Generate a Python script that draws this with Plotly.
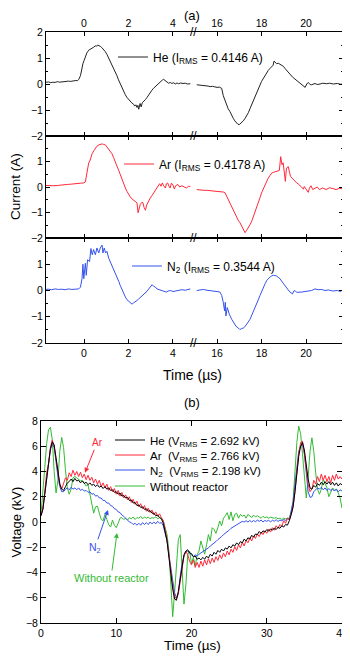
import numpy as np
import plotly.graph_objects as go

# ---------------- (a) discharge current, time in µs ----------------
# left block (before the axis break) and right block (after it), (t, I) pairs
he_left = [(-1.74, 0.06), (-1.6, 0.08), (-1.5, 0.05), (-1.4, 0.07), (-1.3, 0.06), (-1.2, 0.09), (-1.1, 0.07),
           (-1.0, 0.08), (-0.9, 0.1), (-0.8, 0.09), (-0.7, 0.11), (-0.6, 0.1), (-0.5, 0.12), (-0.4, 0.13),
           (-0.3, 0.13), (-0.24, 0.17), (-0.16, 0.32), (-0.1, 0.6), (-0.05, 0.78), (0.0, 0.9), (0.06, 1.04),
           (0.13, 1.2), (0.21, 1.3), (0.3, 1.34), (0.36, 1.37), (0.44, 1.42), (0.51, 1.47), (0.56, 1.45),
           (0.61, 1.5), (0.67, 1.48), (0.73, 1.45), (0.8, 1.4), (0.88, 1.34), (0.95, 1.25), (1.03, 1.14),
           (1.1, 1.02), (1.18, 0.88), (1.25, 0.75), (1.33, 0.61), (1.4, 0.47), (1.48, 0.32), (1.55, 0.16),
           (1.63, 0.0), (1.7, -0.14), (1.78, -0.29), (1.85, -0.4), (1.93, -0.52), (2.0, -0.6), (2.08, -0.68),
           (2.15, -0.73), (2.23, -0.78), (2.28, -0.85), (2.33, -0.8), (2.38, -0.9), (2.42, -0.82), (2.46, -0.97),
           (2.52, -0.75), (2.57, -0.88), (2.62, -0.72), (2.68, -0.68), (2.76, -0.6), (2.83, -0.52), (2.9, -0.42),
           (2.98, -0.32), (3.05, -0.24), (3.13, -0.16), (3.2, -0.1), (3.28, -0.03), (3.36, 0.03), (3.45, 0.1),
           (3.52, 0.15), (3.58, 0.18), (3.63, 0.14), (3.68, 0.12), (3.75, 0.06), (3.8, 0.03), (3.88, 0.06),
           (3.95, 0.02), (4.03, 0.05), (4.1, 0.0), (4.18, 0.04), (4.25, 0.01), (4.35, 0.04), (4.45, 0.02),
           (4.55, 0.03), (4.65, 0.0), (4.78, 0.01)]
he_right = [(15.09, -0.03), (15.2, -0.04), (15.3, -0.05), (15.39, -0.06), (15.5, -0.05), (15.6, -0.08), (15.69, -0.1),
            (15.8, -0.09), (15.9, -0.11), (16.0, -0.13), (16.1, -0.12), (16.21, -0.17), (16.28, -0.45), (16.36, -0.65),
            (16.43, -0.84), (16.5, -0.95), (16.58, -1.06), (16.65, -1.2), (16.73, -1.32), (16.8, -1.42), (16.88, -1.49),
            (16.94, -1.55), (17.0, -1.56), (17.05, -1.52), (17.1, -1.49), (17.18, -1.42), (17.26, -1.32), (17.33, -1.22),
            (17.41, -1.1), (17.48, -0.95), (17.56, -0.8), (17.63, -0.64), (17.7, -0.49), (17.78, -0.34), (17.86, -0.19),
            (17.93, -0.04), (18.0, 0.1), (18.08, 0.22), (18.16, 0.32), (18.23, 0.42), (18.3, 0.52), (18.38, 0.6),
            (18.46, 0.65), (18.52, 0.72), (18.56, 0.88), (18.62, 0.82), (18.68, 0.78), (18.75, 0.8), (18.83, 0.75),
            (18.9, 0.72), (18.98, 0.68), (19.05, 0.6), (19.13, 0.52), (19.2, 0.44), (19.28, 0.36), (19.4, 0.26),
            (19.5, 0.19), (19.62, 0.1), (19.73, 0.03), (19.85, -0.06), (19.96, -0.13), (20.03, 0.0), (20.1, 0.06),
            (20.18, -0.02), (20.25, -0.03), (20.4, 0.02), (20.5, -0.02), (20.63, 0.0), (20.75, 0.03), (20.93, 0.01),
            (21.05, 0.03), (21.23, 0.0), (21.4, 0.02), (21.55, -0.01), (21.68, 0.0)]
ar_left = [(-1.74, 0.06), (-1.6, 0.05), (-1.5, 0.07), (-1.36, 0.05), (-1.2, 0.06), (-1.05, 0.08), (-0.91, 0.09),
           (-0.75, 0.1), (-0.6, 0.11), (-0.46, 0.13), (-0.3, 0.14), (-0.15, 0.15), (-0.01, 0.16), (0.06, 0.2),
           (0.13, 0.55), (0.21, 0.94), (0.28, 1.06), (0.36, 1.3), (0.44, 1.42), (0.51, 1.52), (0.58, 1.6),
           (0.66, 1.65), (0.73, 1.68), (0.81, 1.69), (0.88, 1.67), (0.96, 1.65), (1.03, 1.57), (1.11, 1.48),
           (1.18, 1.4), (1.26, 1.3), (1.33, 1.15), (1.41, 1.0), (1.48, 0.82), (1.56, 0.65), (1.63, 0.47),
           (1.71, 0.29), (1.78, 0.12), (1.86, -0.04), (1.93, -0.17), (2.01, -0.3), (2.08, -0.39), (2.16, -0.47),
           (2.23, -0.52), (2.31, -0.56), (2.38, -0.62), (2.43, -1.01), (2.48, -0.8), (2.53, -0.68), (2.6, -0.6),
           (2.65, -0.62), (2.7, -0.8), (2.76, -0.91), (2.82, -0.7), (2.9, -0.55), (2.98, -0.43), (3.06, -0.33),
           (3.13, -0.23), (3.2, -0.14), (3.28, -0.04), (3.34, 0.05), (3.4, 0.13), (3.46, 0.03), (3.52, 0.16),
           (3.58, 0.05), (3.66, -0.04), (3.7, 0.12), (3.76, 0.16), (3.82, 0.03), (3.87, -0.04), (3.93, 0.15),
           (4.0, 0.08), (4.06, -0.08), (4.12, 0.05), (4.22, 0.1), (4.3, 0.0), (4.4, 0.05), (4.5, 0.01),
           (4.6, -0.04), (4.7, 0.03), (4.78, 0.02)]
ar_right = [(15.09, -0.1), (15.2, -0.12), (15.3, -0.11), (15.4, -0.13), (15.54, -0.13), (15.7, -0.14), (15.85, -0.15),
            (16.0, -0.17), (16.15, -0.18), (16.3, -0.2), (16.36, -0.23), (16.43, -0.36), (16.5, -0.48), (16.58, -0.62),
            (16.66, -0.78), (16.73, -0.95), (16.8, -1.08), (16.88, -1.2), (16.95, -1.3), (17.03, -1.4), (17.1, -1.52),
            (17.18, -1.66), (17.26, -1.79), (17.33, -1.7), (17.41, -1.6), (17.48, -1.48), (17.56, -1.34), (17.63, -1.18),
            (17.7, -1.01), (17.78, -0.82), (17.86, -0.62), (17.93, -0.42), (18.0, -0.23), (18.08, -0.07), (18.16, 0.09),
            (18.23, 0.22), (18.3, 0.35), (18.38, 0.45), (18.46, 0.55), (18.55, 0.58), (18.62, 0.6), (18.68, 0.61),
            (18.75, 0.65), (18.8, 0.65), (18.86, 1.19), (18.92, 0.87), (18.97, 0.95), (19.01, 0.68), (19.07, 0.22),
            (19.12, 0.74), (19.2, 0.8), (19.25, 0.6), (19.3, 0.42), (19.37, 0.35), (19.43, 0.29), (19.5, 0.2),
            (19.58, 0.16), (19.65, 0.12), (19.73, 0.05), (19.8, -0.02), (19.88, -0.08), (19.92, 0.02), (20.0, -0.1),
            (20.1, -0.21), (20.15, -0.05), (20.22, 0.05), (20.3, -0.1), (20.4, -0.05), (20.5, 0.0), (20.6, -0.1),
            (20.75, -0.04), (20.9, -0.1), (21.05, -0.03), (21.2, -0.06), (21.35, -0.1), (21.5, -0.05), (21.68, -0.08)]
n2_left = [(-1.74, 0.04), (-1.6, 0.05), (-1.45, 0.03), (-1.3, 0.06), (-1.15, 0.04), (-1.0, 0.05), (-0.85, 0.03),
           (-0.7, 0.06), (-0.55, 0.04), (-0.4, 0.05), (-0.24, 0.06), (-0.16, 0.13), (-0.09, 0.45), (-0.05, 1.0),
           (-0.01, 0.45), (0.06, 1.04), (0.1, 0.58), (0.16, 1.17), (0.25, 1.1), (0.31, 1.6), (0.37, 1.36),
           (0.43, 1.56), (0.51, 1.36), (0.58, 1.62), (0.66, 1.43), (0.73, 1.62), (0.81, 1.73), (0.85, 1.43),
           (0.91, 1.62), (0.97, 1.43), (1.03, 1.49), (1.11, 1.23), (1.18, 1.1), (1.26, 0.97), (1.33, 0.84),
           (1.41, 0.68), (1.48, 0.52), (1.56, 0.35), (1.63, 0.19), (1.71, 0.03), (1.78, -0.13), (1.86, -0.25),
           (1.93, -0.35), (2.01, -0.41), (2.08, -0.45), (2.16, -0.52), (2.23, -0.47), (2.31, -0.43), (2.38, -0.38),
           (2.46, -0.32), (2.53, -0.27), (2.61, -0.22), (2.68, -0.15), (2.76, -0.09), (2.83, -0.03), (2.91, 0.06),
           (2.98, 0.14), (3.06, 0.22), (3.13, 0.16), (3.21, 0.13), (3.28, 0.06), (3.36, 0.04), (3.43, 0.0),
           (3.5, 0.0), (3.6, -0.04), (3.7, -0.06), (3.78, -0.02), (3.9, 0.0), (4.0, -0.04), (4.1, -0.02),
           (4.25, 0.0), (4.4, 0.03), (4.55, 0.01), (4.78, 0.06)]
n2_right = [(15.09, 0.0), (15.25, 0.02), (15.39, 0.04), (15.55, 0.01), (15.69, 0.0), (15.85, -0.02), (16.0, -0.04),
            (16.13, -0.06), (16.21, -0.19), (16.28, -0.45), (16.34, -0.78), (16.37, -0.45), (16.4, -0.97), (16.46, -0.65),
            (16.55, -0.9), (16.66, -1.1), (16.76, -1.26), (16.85, -1.36), (16.96, -1.43), (17.03, -1.49), (17.1, -1.45),
            (17.18, -1.43), (17.25, -1.38), (17.33, -1.3), (17.4, -1.2), (17.48, -1.1), (17.55, -0.97), (17.63, -0.82),
            (17.7, -0.67), (17.78, -0.52), (17.85, -0.36), (17.93, -0.19), (18.0, -0.03), (18.08, 0.13), (18.16, 0.26),
            (18.24, 0.39), (18.31, 0.46), (18.39, 0.52), (18.46, 0.56), (18.53, 0.58), (18.6, 0.57), (18.68, 0.55),
            (18.75, 0.5), (18.83, 0.45), (18.9, 0.36), (18.98, 0.26), (19.05, 0.18), (19.13, 0.09), (19.2, 0.02),
            (19.28, -0.06), (19.39, -0.13), (19.45, -0.02), (19.5, 0.0), (19.58, -0.07), (19.7, -0.05), (19.8, -0.06),
            (19.95, -0.04), (20.1, -0.03), (20.25, 0.0), (20.4, 0.06), (20.55, 0.03), (20.7, 0.04), (20.85, 0.0),
            (21.0, 0.02), (21.2, -0.02), (21.4, 0.0), (21.55, -0.04), (21.68, 0.06)]

# ---------------- (b) applied voltage, 0.25 µs sampling ----------------
t_b = np.linspace(0, 40, 161)
he_v = [0.5, 1.0, 2.2, 3.6, 4.6, 5.8, 6.35, 6.1, 5.0, 3.9, 3.0, 2.6, 2.5, 2.8, 3.1, 3.2,
        3.4, 3.2, 3.45, 3.25, 3.3, 3.1, 3.25, 3.05, 3.15, 2.95, 3.1, 2.9, 3.0, 2.8, 2.95, 2.75,
        2.85, 2.65, 2.8, 2.6, 2.7, 2.5, 2.55, 2.35, 2.4, 2.2, 2.3, 2.05, 2.1, 1.9, 1.95, 1.7,
        1.75, 1.5, 1.55, 1.3, 1.35, 1.15, 1.2, 1.0, 1.05, 0.85, 0.9, 0.7, 0.7, 0.5, 0.55, 0.35,
        0.25, -0.1, -0.7, -1.5, -2.8, -4.1, -5.3, -6.1, -6.2, -5.5, -4.4, -3.35, -2.6, -2.3, -2.2, -2.45,
        -2.5, -2.75, -2.7, -2.95, -2.85, -3.0, -2.8, -2.95, -2.7, -2.85, -2.55, -2.7, -2.4, -2.55, -2.25, -2.4,
        -2.15, -2.3, -2.05, -2.15, -1.9, -2.05, -1.8, -1.9, -1.65, -1.8, -1.55, -1.65, -1.35, -1.5, -1.25, -1.35,
        -1.05, -1.2, -0.95, -1.0, -0.75, -0.9, -0.7, -0.8, -0.6, -0.72, -0.55, -0.65, -0.48, -0.6, -0.42, -0.5,
        -0.3, -0.4, -0.2, -0.25, 0.1, 0.6, 1.2, 2.4, 4.0, 5.2, 6.0, 6.3, 5.7, 4.5, 3.4, 2.7,
        2.6, 2.9, 2.75, 3.05, 2.9, 3.15, 2.95, 3.2, 3.0, 3.2, 2.95, 3.15, 2.9, 3.1, 2.85, 3.05,
        2.95]
ar_v = [0.5, 1.1, 2.4, 3.9, 4.6, 5.9, 6.5, 6.0, 5.0, 4.0, 3.0, 2.6, 3.0, 3.5, 3.3, 3.9,
        3.6, 4.1, 3.7, 4.0, 3.6, 3.95, 3.5, 3.8, 3.35, 3.7, 3.3, 3.55, 3.1, 3.4, 3.0, 3.3,
        2.8, 3.1, 2.7, 3.0, 2.5, 2.8, 2.4, 2.65, 2.2, 2.5, 2.05, 2.35, 1.9, 2.15, 1.75, 2.0,
        1.55, 1.8, 1.4, 1.65, 1.2, 1.45, 1.05, 1.3, 0.85, 1.1, 0.75, 0.95, 0.55, 0.8, 0.45, 0.65,
        0.35, 0.1, -0.6, -1.4, -2.6, -3.9, -5.1, -5.9, -6.1, -5.7, -4.6, -3.6, -2.7, -2.3, -2.6, -3.1,
        -3.4, -3.0, -3.6, -3.2, -3.6, -3.1, -3.5, -3.0, -3.4, -2.9, -3.3, -2.85, -3.2, -2.75, -3.05, -2.6,
        -2.9, -2.45, -2.75, -2.3, -2.6, -2.15, -2.4, -1.95, -2.25, -1.8, -2.05, -1.6, -1.9, -1.45, -1.65, -1.25,
        -1.5, -1.1, -1.3, -0.95, -1.15, -0.8, -1.0, -0.7, -0.9, -0.55, -0.8, -0.45, -0.65, -0.3, -0.5, -0.2,
        -0.35, 0.1, -0.1, 0.3, 0.2, 0.6, 1.2, 2.4, 4.0, 5.4, 6.3, 6.4, 5.4, 4.1, 3.0, 2.4,
        2.6, 3.3, 3.0, 3.6, 3.2, 3.8, 3.3, 3.7, 3.2, 3.6, 3.1, 3.7, 3.3, 3.8, 3.4, 3.6,
        3.4]
n2_v = [0.5, 1.0, 2.2, 3.6, 4.6, 5.7, 6.2, 5.9, 4.6, 3.6, 2.8, 2.4, 2.4, 2.6, 2.7, 2.55,
        2.75, 2.6, 2.7, 2.55, 2.7, 2.5, 2.6, 2.45, 2.5, 2.35, 2.4, 2.2, 2.25, 2.05, 2.1, 1.9,
        1.9, 1.7, 1.7, 1.5, 1.5, 1.3, 1.25, 1.05, 1.0, 0.8, 0.75, 0.55, 0.45, 0.25, 0.15, 0.0,
        -0.05, -0.2, -0.1, -0.25, -0.1, -0.25, -0.05, -0.2, -0.05, -0.2, 0.0, -0.15, 0.0, -0.15, 0.05, -0.1,
        -0.05, -0.3, -0.84, -1.5, -2.6, -3.7, -4.8, -5.6, -6.0, -5.6, -4.3, -3.3, -2.7, -2.35, -2.3, -2.45,
        -2.6, -2.75, -2.6, -2.7, -2.55, -2.45, -2.35, -2.3, -2.15, -2.05, -1.9, -1.8, -1.7, -1.55, -1.4, -1.3,
        -1.15, -1.0, -0.9, -0.75, -0.65, -0.5, -0.4, -0.3, -0.2, -0.1, -0.05, 0.05, 0.0, 0.1, 0.0, 0.12,
        0.0, 0.12, 0.02, 0.15, 0.05, 0.15, 0.0, 0.12, 0.05, 0.15, 0.0, 0.14, 0.06, 0.18, 0.04, 0.15,
        0.1, 0.2, 0.12, 0.25, 0.2, 0.8, 1.6, 3.0, 4.6, 5.6, 6.0, 6.15, 5.4, 3.7, 2.4, 1.95,
        2.0, 2.4, 2.55, 2.7, 2.6, 2.75, 2.55, 2.7, 2.5, 2.65, 2.5, 2.6, 2.45, 2.6, 2.4, 2.55,
        2.45]
wo_v = [0.6, 2.2, 4.3, 6.2, 7.3, 7.5, 6.5, 4.0, 2.3, 3.3, 5.6, 6.7, 5.9, 4.1, 2.7, 2.2,
        2.6, 3.5, 3.6, 3.5, 3.4, 3.25, 3.3, 3.1, 2.85, 2.95, 2.2, 1.3, 0.7, 1.2, 1.25, 0.7,
        0.2, 0.1, 0.6, 0.2, -0.2, -0.4, 0.15, -0.25, -0.45, -0.1, 0.3, 0.35, 0.2, 0.3, 0.15, 0.35,
        0.25, 0.4, 0.2, 0.35, 0.3, 0.45, 0.25, 0.4, 0.3, 0.4, 0.25, 0.35, 0.3, 0.4, 0.25, 0.35,
        0.3, 0.1, -0.45, -1.0, -2.3, -4.9, -7.5, -5.6, -3.3, -1.4, -1.0, -3.5, -6.5, -5.0, -2.6, -2.3,
        -3.3, -2.8, -3.5, -2.6, -2.3, -1.5, -2.0, -2.55, -1.8, -1.0, -1.5, -0.45, -0.6, -0.9, -0.45, 0.08,
        -0.3, 0.3, 0.5, 0.74, 0.2, 0.8, 0.1, 0.6, 0.7, 0.3, 0.6, 0.45, 0.55, 0.3, 0.6, 0.5,
        0.35, 0.55, 0.4, 0.5, 0.4, 0.3, 0.45, 0.35, 0.4, 0.3, 0.38, 0.35, 0.3, 0.35, 0.25, 0.3,
        0.2, 0.3, 0.25, 0.3, 0.3, 0.8, 1.65, 4.0, 6.3, 7.6, 7.0, 5.4, 3.3, 1.9, 3.5, 5.6,
        6.67, 5.6, 3.9, 2.6, 2.2, 2.6, 3.4, 3.1, 2.7, 2.0, 2.4, 2.7, 2.5, 2.6, 2.3, 1.9,
        1.1]

labels_a = ["He (I<sub>RMS</sub> = 0.4146 A)", "Ar (I<sub>RMS</sub> = 0.4178 A)", "N<sub>2</sub> (I<sub>RMS</sub> = 0.3544 A)"]
labels_b = ["He (V<sub>RMS</sub> = 2.692 kV)", "Ar  (V<sub>RMS</sub> = 2.766 kV)",
            "N<sub>2</sub>  (V<sub>RMS</sub> = 2.198 kV)", "Without reactor"]
colors = ["#222222", "#ff2838", "#3552ee", "#33bb33"]

FONT = "Arial, Liberation Sans, sans-serif"
# the page keeps the browser's 8 px body margin: size the figure to the space left
# and express positions in window pixels
OFF = 8
W, H = 350 - OFF, 658 - OFF


def px_x(p):
    return (p - OFF) / W


def px_y(p):
    return 1 - (p - OFF) / H


def ax_name(kind, i):
    return kind if i == 1 else f"{kind}{i}"


axis_common = dict(showline=True, linecolor="black", linewidth=1, ticks="inside", ticklen=4,
                   tickcolor="black", showgrid=False, zeroline=False, automargin=False,
                   tickfont=dict(family=FONT, size=10.5, color="black"))

fig = go.Figure()
layout = {}

x_left = [px_x(46), px_x(193)]
x_right = [px_x(193), px_x(343)]
rows = [(32, 136), (136, 238), (238, 343)]
series_a = [(he_left, he_right), (ar_left, ar_right), (n2_left, n2_right)]
legend_pos = [(113, 57), (119, 164), (127, 266)]

for p, (top, bot) in enumerate(rows):
    li, ri = 2 * p + 1, 2 * p + 2
    ydom = [px_y(bot), px_y(top)]
    side = "top" if p == 0 else "bottom"
    for idx, dom, rng in ((li, x_left, [-1.71, 4.9]), (ri, x_right, [14.92, 21.66])):
        layout[ax_name("xaxis", idx)] = dict(axis_common, domain=dom, range=rng, anchor=ax_name("y", idx),
                                             side=side, mirror="ticks", dtick=2, tick0=0,
                                             showticklabels=(p != 1))
    yt = [-2, -1, 0, 1, 2] if p == 0 else [-2, -1, 0, 1]
    layout[ax_name("yaxis", li)] = dict(axis_common, domain=ydom, range=[-2, 2], anchor=ax_name("x", li),
                                        tickvals=yt, minor=dict(dtick=0.5, ticks="inside", ticklen=2))
    layout[ax_name("yaxis", ri)] = dict(axis_common, domain=ydom, range=[-2, 2], anchor=ax_name("x", ri),
                                        side="right", dtick=1, showticklabels=False,
                                        minor=dict(dtick=0.5, ticks="inside", ticklen=2))
    leg = "legend" if p == 0 else f"legend{p + 1}"
    lx, ly = legend_pos[p]
    layout[leg] = dict(x=px_x(lx), y=px_y(ly), xanchor="left", yanchor="middle", bgcolor="rgba(0,0,0,0)",
                       font=dict(family=FONT, size=12, color="black"), itemwidth=30)
    left, right = series_a[p]
    for k, (part, idx) in enumerate(((left, li), (right, ri))):
        fig.add_trace(go.Scatter(x=[a for a, _ in part], y=[b for _, b in part], mode="lines",
                                 line=dict(color=colors[p], width=1), name=labels_a[p],
                                 showlegend=(k == 0), legend=leg,
                                 xaxis=ax_name("x", idx), yaxis=ax_name("y", idx)))

# panel (b)
layout["xaxis7"] = dict(axis_common, domain=[px_x(41), px_x(342)], range=[0, 40], dtick=10,
                        anchor="y7", mirror="ticks", ticklen=5)
layout["yaxis7"] = dict(axis_common, domain=[px_y(623), px_y(421)], range=[-8, 8], dtick=2,
                        anchor="x7", mirror="ticks", ticklen=5)
legend_b_y = [440, 455, 470, 486]
traces_b = []
for j, vals in enumerate([he_v, ar_v, n2_v, wo_v]):
    leg = f"legend{4 + j}"
    layout[leg] = dict(x=px_x(110), y=px_y(legend_b_y[j]), xanchor="left", yanchor="middle",
                       bgcolor="rgba(0,0,0,0)", font=dict(family=FONT, size=11.5, color="black"), itemwidth=30)
    traces_b.append(go.Scatter(x=t_b, y=vals, mode="lines", name=labels_b[j], legend=leg,
                               line=dict(color="black" if j == 0 else colors[j], width=1),
                               xaxis="x7", yaxis="y7"))
# draw order like the reference: green underneath, black on top
for tr in reversed(traces_b):
    fig.add_trace(tr)


def txt(s, x, y, size=14, angle=0, color="black"):
    return dict(text=s, x=px_x(x), y=px_y(y), xref="paper", yref="paper", showarrow=False,
                textangle=angle, font=dict(family=FONT, size=size, color=color),
                xanchor="center", yanchor="middle")


annotations = [
    txt("(a)", 192, 15.5, 13),
    txt("Time (µs)", 192, 375, 14),
    txt("Current (A)", 16, 187, 13.5, -90),
    txt("(b)", 192, 403, 13),
    txt("Time (µs)", 192, 645, 13.5),
    txt("Voltage (kV)", 15.5, 522, 13, -90),
]
for by in (32, 136, 238, 343):
    annotations.append(txt("//", 193, by, 12))

arrow_notes = [("Ar", 5.85, 3.9, 12, -30, colors[1], 10),
               ("N<sub>2</sub>", 8.9, 0.96, -13, 38, colors[2], 10.5),
               ("Without reactor", 10.1, -0.87, -6, 45, colors[3], 11)]
for s, x, y, axx, ayy, c, fs in arrow_notes:
    annotations.append(dict(text=s, x=x, y=y, xref="x7", yref="y7", ax=axx, ay=ayy, showarrow=True,
                            arrowhead=2, arrowsize=1, arrowwidth=1, arrowcolor=c,
                            font=dict(family=FONT, size=fs, color=c)))

fig.update_layout(
    width=W, height=H,
    margin=dict(l=0, r=0, t=0, b=0),
    paper_bgcolor="white", plot_bgcolor="white",
    font=dict(family=FONT, color="black"),
    annotations=annotations,
    **layout,
)

fig.write_html("out.html")
